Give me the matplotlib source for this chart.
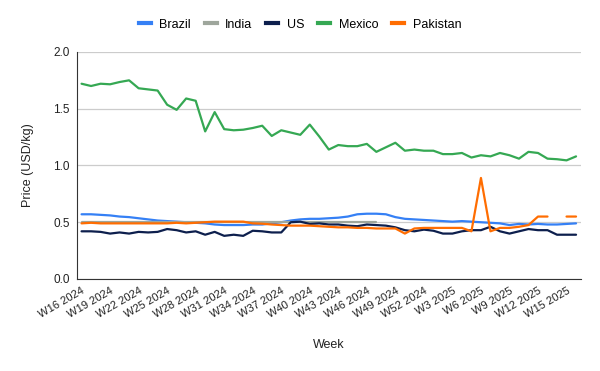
import numpy as np
import matplotlib
matplotlib.use("Agg")
import matplotlib.pyplot as plt
from matplotlib.lines import Line2D

plt.rcParams['font.family'] = ['Liberation Sans', 'DejaVu Sans']

# Weeks: W16 2024 .. W16 2025 (2024 has 52 ISO weeks)
weeks = [f"W{w} 2024" for w in range(16, 53)] + [f"W{w} 2025" for w in range(1, 17)]

brazil = [0.57, 0.57, 0.565, 0.56, 0.55, 0.545, 0.535, 0.525, 0.515, 0.51,
          0.505, 0.50, 0.495, 0.49, 0.48, 0.475, 0.475, 0.475, 0.48, 0.48,
          0.49, 0.50, 0.515, 0.525, 0.53, 0.53, 0.535, 0.54, 0.55, 0.57,
          0.575, 0.575, 0.57, 0.545, 0.53, 0.525, 0.52, 0.515, 0.51, 0.505,
          0.51, 0.505, 0.50, 0.495, 0.49, 0.475, 0.485, 0.48, 0.485, 0.48,
          0.48, 0.485, 0.49]

india = [0.5] * 32 + [np.nan] * 21

us = [0.42, 0.42, 0.415, 0.40, 0.41, 0.40, 0.415, 0.41, 0.415, 0.44,
      0.43, 0.41, 0.42, 0.39, 0.415, 0.38, 0.39, 0.38, 0.425, 0.42,
      0.41, 0.41, 0.50, 0.505, 0.485, 0.49, 0.48, 0.48, 0.47, 0.465,
      0.48, 0.475, 0.47, 0.455, 0.43, 0.42, 0.435, 0.425, 0.40, 0.40,
      0.42, 0.43, 0.43, 0.46, 0.42, 0.40, 0.42, 0.44, 0.43, 0.43,
      0.39, 0.39, 0.39]

mexico = [1.72, 1.70, 1.72, 1.715, 1.735, 1.75, 1.68, 1.67, 1.66, 1.535,
          1.49, 1.59, 1.57, 1.30, 1.47, 1.32, 1.31, 1.315, 1.33, 1.35,
          1.26, 1.31, 1.29, 1.27, 1.36, 1.255, 1.14, 1.18, 1.17, 1.17,
          1.19, 1.12, 1.16, 1.20, 1.13, 1.14, 1.13, 1.13, 1.10, 1.10,
          1.11, 1.07, 1.09, 1.08, 1.11, 1.09, 1.06, 1.12, 1.11, 1.06,
          1.055, 1.045, 1.08]

pakistan = [0.49, 0.495, 0.49, 0.49, 0.49, 0.49, 0.49, 0.49, 0.49, 0.49,
            0.495, 0.49, 0.495, 0.50, 0.505, 0.505, 0.505, 0.505, 0.49, 0.487,
            0.48, 0.475, 0.47, 0.47, 0.47, 0.465, 0.46, 0.455, 0.455, 0.45,
            0.45, 0.445, 0.445, 0.445, 0.40, 0.445, 0.45, 0.45, 0.45, 0.45,
            0.45, 0.42, 0.89, 0.42, 0.45, 0.45, 0.46, 0.475, 0.55, 0.55,
            np.nan, 0.55, 0.55]

series = [("Brazil", brazil, "#3580f5"),
          ("India", india, "#9ea69c"),
          ("US", us, "#0d1f4d"),
          ("Mexico", mexico, "#35a853"),
          ("Pakistan", pakistan, "#ff6d01")]

fig = plt.figure(figsize=(6, 3.71), dpi=100)
ax = fig.add_axes([0.128, 0.248, 0.84, 0.612])

x = np.arange(len(weeks))
for name, vals, col in series:
    ax.plot(x, vals, color=col, lw=1.6, solid_capstyle='round', solid_joinstyle='round')

ax.set_xlim(-0.5, len(weeks) - 0.5)
ax.set_ylim(0, 2.0)
ax.set_yticks([0, 0.5, 1.0, 1.5, 2.0])
ax.set_yticklabels(["0.0", "0.5", "1.0", "1.5", "2.0"])
ax.set_xticks(x[::3])
ax.set_xticklabels(weeks[::3], rotation=30, ha='right', rotation_mode='anchor')
ax.tick_params(axis='both', length=0, colors='#222222')
ax.tick_params(axis='x', labelsize=8, pad=5)
ax.tick_params(axis='y', labelsize=8.5, pad=5)

ax.grid(axis='y', color='#cccccc', lw=0.9)
ax.set_axisbelow(True)
for s in ['top', 'right']:
    ax.spines[s].set_visible(False)
ax.spines['left'].set_color('#333333')
ax.spines['bottom'].set_color('#333333')

ax.set_xlabel("Week", fontsize=9, color='#222222', labelpad=14)
ax.set_ylabel("Price (USD/kg)", fontsize=9, color='#222222', labelpad=14)

handles = [Line2D([0], [0], color=c, lw=3) for _, _, c in series]
fig.legend(handles, [n for n, _, _ in series], loc='center', bbox_to_anchor=(0.5, 0.933),
           ncol=5, frameon=False, fontsize=9, handlelength=0.95, handletextpad=0.7,
           columnspacing=1.1)

fig.savefig("out.png", dpi=100)
